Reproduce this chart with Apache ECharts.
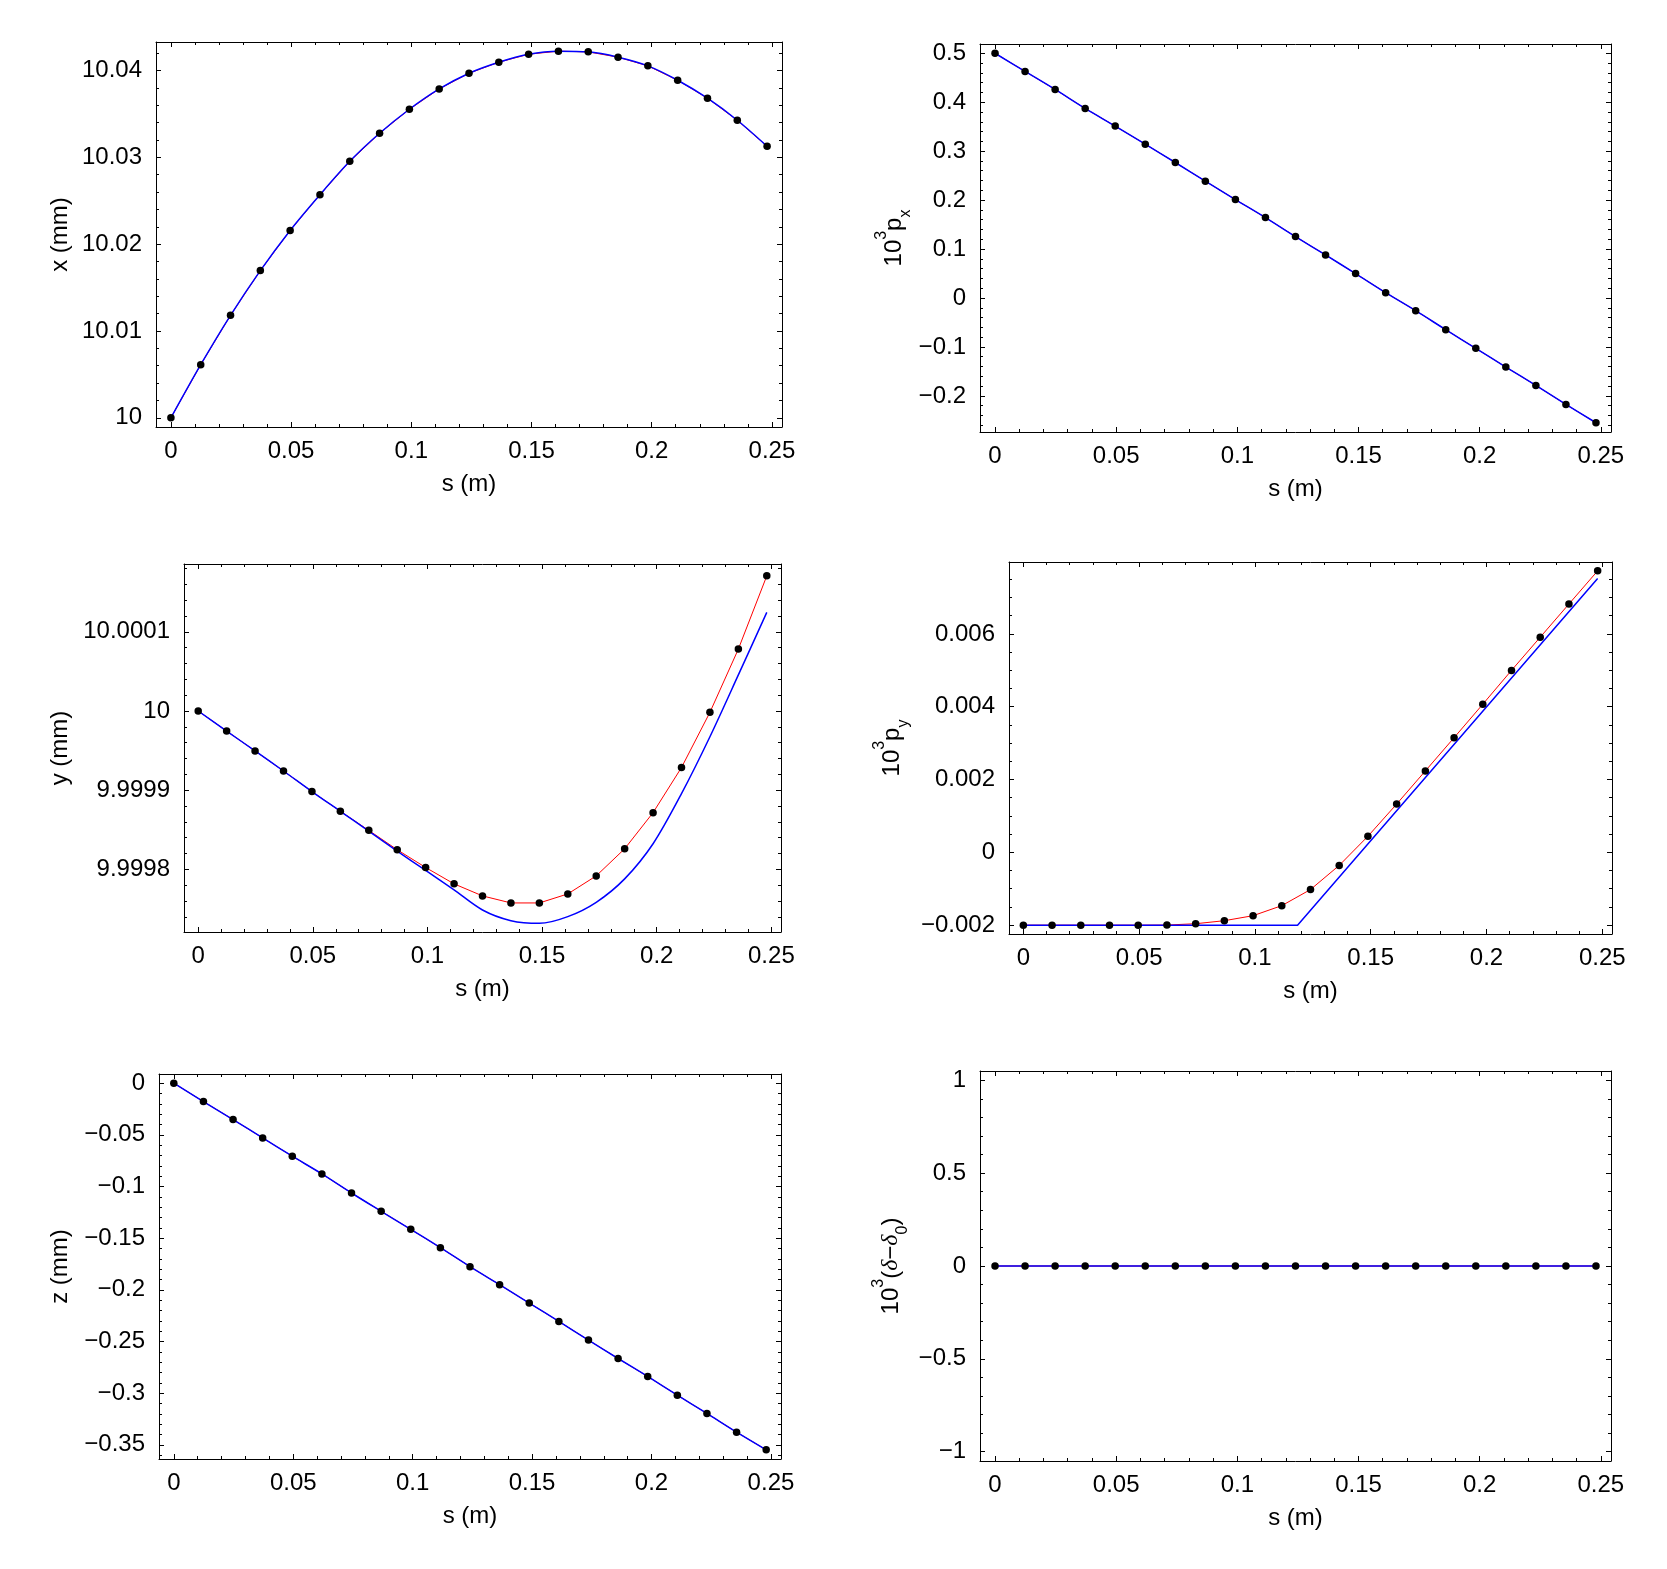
<!DOCTYPE html>
<html><head><meta charset="utf-8">
<script src="https://cdn.jsdelivr.net/npm/echarts@6/dist/echarts.min.js"></script>
<style>html,body{margin:0;padding:0;background:#fff}#c{width:1667px;height:1569px}</style>
</head><body><div id="c"></div>
<script>
// ---- data ----
const sValues = [0,0.0124,0.0248,0.0372,0.0496,0.062,0.0744,0.0868,0.0992,0.1116,0.124,0.1364,0.1488,0.1612,0.1736,0.186,0.1984,0.2108,0.2232,0.2356,0.248];
const xDots  = [10.0,10.00612,10.01181,10.01696,10.02158,10.02569,10.02954,10.03277,10.03554,10.03788,10.03969,10.04096,10.04188,10.04223,10.04215,10.04154,10.04054,10.03888,10.03681,10.03427,10.03127];
const pxDots = [0.5,0.4629,0.4260,0.3872,0.3511,0.3142,0.2768,0.2386,0.2011,0.1643,0.1254,0.0879,0.0498,0.0109,-0.0259,-0.0648,-0.1029,-0.1411,-0.1786,-0.2175,-0.2549];
const yDots  = [10.0,9.9999747,9.9999495,9.9999242,9.9998982,9.9998733,9.9998492,9.9998247,9.9998023,9.9997816,9.9997664,9.9997575,9.9997575,9.9997689,9.9997917,9.9998259,9.9998716,9.9999286,9.9999983,10.0000782,10.0001707];
const yBlue  = [10.0,9.9999747,9.9999495,9.9999242,9.9998982,9.9998733,9.9998483,9.999823,9.9997985,9.999774,9.9997486,9.9997351,9.9997317,9.9997402,9.9997583,9.9997879,9.9998323,9.9998956,9.9999675,10.0000456,10.0001246];
const pyDots = [-0.002,-0.002,-0.002,-0.002,-0.002,-0.0019977,-0.001961,-0.001878,-0.00174,-0.001464,-0.001022,-0.000359,0.000442,0.001326,0.002237,0.003149,0.004069,0.004999,0.00591,0.006822,0.007733];
const pyBlueS = [0,0.1184,0.248];
const pyBlueV = [-0.002,-0.002,0.00752];
const zDots  = [0,-0.0178,-0.0352,-0.0530,-0.0707,-0.0878,-0.1063,-0.1240,-0.1415,-0.1592,-0.1776,-0.1951,-0.2128,-0.2306,-0.2487,-0.2665,-0.2839,-0.3020,-0.3197,-0.3378,-0.3549];
const dDots  = [0,0,0,0,0,0,0,0,0,0,0,0,0,0,0,0,0,0,0,0,0];

const sTicks  = [0,0.05,0.1,0.15,0.2,0.25];
const xTicks  = [10,10.01,10.02,10.03,10.04];
const pxTicks = [-0.2,-0.1,0,0.1,0.2,0.3,0.4,0.5];
const yTicks  = [9.9998,9.9999,10,10.0001];
const pyTicks = [-0.002,0,0.002,0.004,0.006];
const zTicks  = [-0.35,-0.3,-0.25,-0.2,-0.15,-0.1,-0.05,0];
const dTicks  = [-1,-0.5,0,0.5,1];

// ---- helpers ----
const FONT = '"Liberation Sans", Arial, Helvetica, sans-serif';
const fmt = v => String(Number(Number(v).toPrecision(10))).replace('-', '\u2212');
function minorTicks(min, max, step, every){
  const out = [];
  for (let k = Math.ceil(min/step - 1e-9); k*step <= max + 1e-12; k++){
    if (k % every !== 0) out.push(Number((k*step).toPrecision(12)));
  }
  return out;
}
function padRange(arrs){
  let lo = Infinity, hi = -Infinity;
  arrs.forEach(a => a.forEach(v => { lo = Math.min(lo, v); hi = Math.max(hi, v); }));
  const p = (hi - lo) * 0.025;
  return [lo - p, hi + p];
}
const pairs = (xs, ys) => xs.map((x, i) => [x, ys[i]]);

const plainName = {fontSize:24, fontFamily:FONT, color:'#000', lineHeight:24};
const richName = {fontSize:24, fontFamily:FONT, color:'#000', lineHeight:40,
  rich:{
    b:{fontSize:24, fontFamily:FONT, color:'#000', lineHeight:40, verticalAlign:'middle'},
    sup:{fontSize:16, fontFamily:FONT, color:'#000', lineHeight:16, verticalAlign:'top'},
    sub:{fontSize:16, fontFamily:FONT, color:'#000', lineHeight:28, verticalAlign:'bottom'},
    it:{fontSize:24, fontFamily:'"Liberation Serif", "DejaVu Serif", serif', fontStyle:'italic', color:'#000', lineHeight:40, verticalAlign:'middle'}
  }};

const panels = [
  {grid:{left:156,top:42,width:626,height:385}, red:pairs(sValues,xDots), blue:pairs(sValues,xDots), blueSmooth:true, dots:pairs(sValues,xDots),
   yVals:[xDots], yMajor:xTicks, yStep:0.002, yEvery:5, name:'x (mm)', nameGap:84, nameStyle:plainName},
  {grid:{left:980,top:44,width:631,height:388}, red:pairs(sValues,pxDots), blue:pairs(sValues,pxDots), blueSmooth:true, dots:pairs(sValues,pxDots),
   yVals:[pxDots], yMajor:pxTicks, yStep:0.02, yEvery:5, name:'{b|10}{sup|3}{b|p}{sub|x}', nameGap:66, nameStyle:richName},
  {grid:{left:184,top:564,width:597,height:368}, red:pairs(sValues,yDots), blue:pairs(sValues,yBlue), blueSmooth:true, dots:pairs(sValues,yDots),
   yVals:null, yFixed:[9.9997208,10.0001857], yMajor:yTicks, yStep:0.00002, yEvery:5, name:'y (mm)', nameGap:112, nameStyle:plainName},
  {grid:{left:1009,top:562,width:603,height:372}, red:pairs(sValues,pyDots), blue:pairs(pyBlueS,pyBlueV), blueSmooth:false, dots:pairs(sValues,pyDots),
   yVals:[pyDots,pyBlueV], yMajor:pyTicks, yStep:0.0005, yEvery:4, name:'{b|10}{sup|3}{b|p}{sub|y}', nameGap:97, nameStyle:richName},
  {grid:{left:159,top:1074,width:622,height:385}, red:pairs(sValues,zDots), blue:pairs(sValues,zDots), blueSmooth:true, dots:pairs(sValues,zDots),
   yVals:[zDots], yMajor:zTicks, yStep:0.01, yEvery:5, name:'z (mm)', nameGap:87, nameStyle:plainName},
  {grid:{left:980,top:1071,width:631,height:390}, red:pairs(sValues,dDots), blue:pairs(sValues,dDots), blueSmooth:false, dots:pairs(sValues,dDots),
   yVals:null, yFixed:[-1.05,1.05], yMajor:dTicks, yStep:0.1, yEvery:5, name:'{b|10}{sup|3}{b|(}{it|δ}{b|\u2212}{it|δ}{sub|0}{b|)}', nameGap:69, nameStyle:richName}
];

function axisSet(isX, gi, min, max, majors, minorVals, name, nameGap, nameStyle){
  const pos1 = isX ? 'bottom' : 'left', pos2 = isX ? 'top' : 'right';
  const base = {gridIndex:gi, type:'value', min:min, max:max, splitLine:{show:false}, splitArea:{show:false}};
  const line = {show:true, onZero:false, lineStyle:{color:'#000', width:1}};
  const noLine = {show:false, onZero:false};
  const tick = (vals, len) => ({show:true, inside:true, length:len, customValues:vals, lineStyle:{color:'#000', width:1}});
  return [
    Object.assign({}, base, {position:pos1, axisLine:line, axisTick:tick(majors,5),
      axisLabel:{show:true, customValues:majors, formatter:fmt, fontSize:24, fontFamily:FONT, color:'#000', margin: isX ? 12 : 14},
      name:name, nameLocation:'middle', nameGap:nameGap, nameTextStyle:nameStyle, nameRotate: isX ? 0 : 90}),
    Object.assign({}, base, {position:pos1, axisLine:noLine, axisTick:tick(minorVals,3), axisLabel:{show:false}}),
    Object.assign({}, base, {position:pos2, axisLine:line, axisTick:tick(majors,5), axisLabel:{show:false}}),
    Object.assign({}, base, {position:pos2, axisLine:noLine, axisTick:tick(minorVals,3), axisLabel:{show:false}})
  ];
}

const sRange = padRange([sValues]);
const sMinors = minorTicks(sRange[0], sRange[1], 0.01, 5);

const option = {animation:false, backgroundColor:'#fff', grid:[], xAxis:[], yAxis:[], series:[]};
panels.forEach((p, gi) => {
  option.grid.push(Object.assign({containLabel:false, outerBoundsMode:'none'}, p.grid));
  const yr = p.yFixed || padRange(p.yVals);
  option.xAxis.push(...axisSet(true, gi, sRange[0], sRange[1], sTicks, sMinors, 's (m)', 45, plainName));
  option.yAxis.push(...axisSet(false, gi, yr[0], yr[1], p.yMajor, minorTicks(yr[0], yr[1], p.yStep, p.yEvery), p.name, p.nameGap, p.nameStyle));
  const ax = gi * 4;
  option.series.push(
    {type:'line', xAxisIndex:ax, yAxisIndex:ax, data:p.red, symbol:'none', smooth:false, lineStyle:{color:'#ff0000', width:1}, z:2, silent:true},
    {type:'line', xAxisIndex:ax, yAxisIndex:ax, data:p.blue, symbol:'none', smooth:p.blueSmooth ? 0.3 : false, lineStyle:{color:'#0000ff', width:1.5}, z:3, silent:true},
    {type:'scatter', xAxisIndex:ax, yAxisIndex:ax, data:p.dots, symbol:'circle', symbolSize:7.5, itemStyle:{color:'#000', opacity:1}, z:4, silent:true}
  );
});

const chart = echarts.init(document.getElementById('c'), null, {renderer:'canvas'});
chart.setOption(option);
</script>
</body></html>
